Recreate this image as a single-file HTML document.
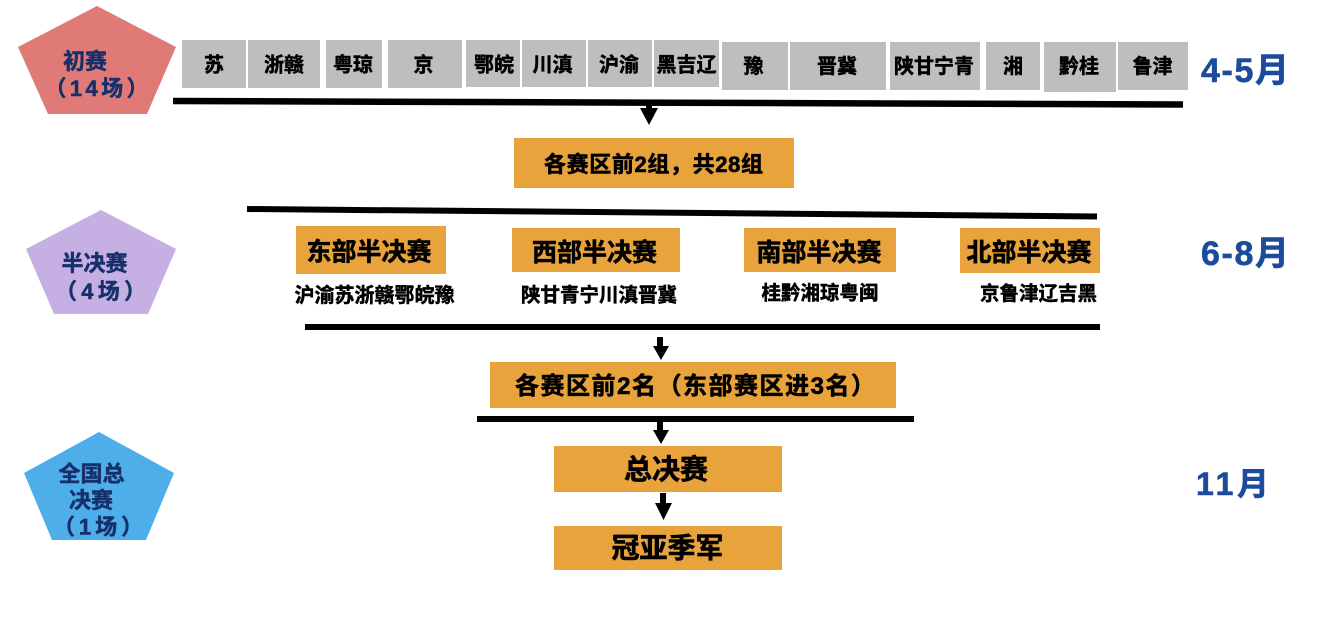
<!DOCTYPE html>
<html>
<head>
<meta charset="utf-8">
<style>
  html, body { margin:0; padding:0; background:#fff; }
  body { width:1336px; height:618px; overflow:hidden; }
  svg { display:block; }
  text { font-family: "Liberation Sans", "Noto Sans CJK SC", "WenQuanYi Zen Hei", sans-serif; font-weight:bold; }
  .g { font-size:20px; fill:#000; stroke:#000; stroke-width:0.5px; }
  .p { font-size:22px; fill:#17306B; stroke:#17306B; stroke-width:0.5px; }
  .o { font-size:25px; fill:#000; stroke:#000; stroke-width:0.6px; }
  .s { font-size:19.5px; fill:#000; stroke:#000; stroke-width:0.5px; }
  .m { font-size:34px; fill:#1C4B9C; stroke:#1C4B9C; stroke-width:0.6px; }
</style>
</head>
<body>
<svg width="1336" height="618" viewBox="0 0 1336 618" xmlns="http://www.w3.org/2000/svg">
  <!-- Pentagons -->
  <polygon points="97,6 176,47 147,114 48,114 18,47" fill="#E07A77"/>
  <polygon points="101,210 176,249 148,314 54,314 26,249" fill="#C6AFE3"/>
  <polygon points="99,432 174,473 146,540 52,540 24,473" fill="#4DAEEA"/>

  <text class="p" x="85" y="69" text-anchor="middle">初赛</text>
  <text class="p" x="96.5" y="96" text-anchor="middle" textLength="104" lengthAdjust="spacing">（14场）</text>

  <text class="p" x="94.5" y="271" text-anchor="middle">半决赛</text>
  <text class="p" x="100.5" y="299" text-anchor="middle" textLength="91" lengthAdjust="spacing">（4场）</text>

  <text class="p" x="91.5" y="481.5" text-anchor="middle">全国总</text>
  <text class="p" x="91" y="508" text-anchor="middle">决赛</text>
  <text class="p" x="98" y="534.5" text-anchor="middle" textLength="90" lengthAdjust="spacing">（1场）</text>

  <!-- Gray province boxes -->
  <g fill="#BEBEBE">
    <rect x="182" y="40" width="64" height="48"/>
    <rect x="248" y="40" width="72" height="48"/>
    <rect x="326" y="40" width="56" height="48"/>
    <rect x="388" y="40" width="74" height="48"/>
    <rect x="466" y="40" width="54" height="47"/>
    <rect x="522" y="40" width="64" height="47"/>
    <rect x="588" y="40" width="64" height="47"/>
    <rect x="654" y="40" width="65" height="47"/>
    <rect x="722" y="42" width="66" height="48"/>
    <rect x="790" y="42" width="96" height="48"/>
    <rect x="890" y="42" width="90" height="48"/>
    <rect x="986" y="42" width="54" height="48"/>
    <rect x="1044" y="42" width="72" height="50"/>
    <rect x="1118" y="42" width="70" height="48"/>
  </g>
  <text class="g" x="214" y="71.5" text-anchor="middle">苏</text>
  <text class="g" x="284" y="71.5" text-anchor="middle">浙赣</text>
  <text class="g" x="353" y="71.5" text-anchor="middle">粤琼</text>
  <text class="g" x="423.5" y="71.5" text-anchor="middle">京</text>
  <text class="g" x="494" y="71.5" text-anchor="middle">鄂皖</text>
  <text class="g" x="552.5" y="71.5" text-anchor="middle">川滇</text>
  <text class="g" x="619" y="71.5" text-anchor="middle">沪渝</text>
  <text class="g" x="686.5" y="71.5" text-anchor="middle">黑吉辽</text>
  <text class="g" x="753.5" y="73" text-anchor="middle">豫</text>
  <text class="g" x="837" y="73" text-anchor="middle">晋冀</text>
  <text class="g" x="934" y="73" text-anchor="middle">陕甘宁青</text>
  <text class="g" x="1013" y="73" text-anchor="middle">湘</text>
  <text class="g" x="1079" y="73" text-anchor="middle">黔桂</text>
  <text class="g" x="1152.5" y="73" text-anchor="middle">鲁津</text>

  <!-- Month labels -->
  <text class="m" x="1201" y="82" textLength="88" lengthAdjust="spacing">4-5月</text>
  <text class="m" x="1201" y="265" textLength="88" lengthAdjust="spacing">6-8月</text>
  <text class="m" x="1196" y="495" style="font-size:32px" textLength="73" lengthAdjust="spacing">11月</text>

  <!-- Lines -->
  <line x1="173" y1="101" x2="1183" y2="104.5" stroke="#000" stroke-width="6.5"/>
  <line x1="247" y1="209" x2="1097" y2="216.5" stroke="#000" stroke-width="6"/>
  <line x1="305" y1="327" x2="1100" y2="327" stroke="#000" stroke-width="6"/>
  <line x1="477" y1="419" x2="914" y2="419" stroke="#000" stroke-width="6"/>

  <!-- Arrows -->
  <rect x="646" y="103" width="6" height="6" fill="#000"/>
  <polygon points="640,108 658,108 649,125" fill="#000"/>

  <rect x="657" y="337" width="6" height="10" fill="#000"/>
  <polygon points="653,346 669,346 661,360" fill="#000"/>

  <rect x="657" y="421" width="6" height="10" fill="#000"/>
  <polygon points="653,430 669,430 661,444" fill="#000"/>

  <rect x="660" y="493" width="6" height="11" fill="#000"/>
  <polygon points="655,503 672,503 663.5,520" fill="#000"/>

  <!-- Orange boxes -->
  <g fill="#E9A33C">
    <rect x="514" y="138" width="280" height="50"/>
    <rect x="296" y="226" width="150" height="48"/>
    <rect x="512" y="228" width="168" height="44"/>
    <rect x="744" y="228" width="152" height="44"/>
    <rect x="960" y="228" width="140" height="45"/>
    <rect x="490" y="362" width="406" height="46"/>
    <rect x="554" y="446" width="228" height="46"/>
    <rect x="554" y="526" width="228" height="44"/>
  </g>

  <text class="o" x="653.5" y="172" style="font-size:22px" text-anchor="middle" textLength="219" lengthAdjust="spacing">各赛区前2组，共28组</text>

  <text class="o" x="369" y="260.5" text-anchor="middle">东部半决赛</text>
  <text class="o" x="594.5" y="261" text-anchor="middle">西部半决赛</text>
  <text class="o" x="819" y="261" text-anchor="middle">南部半决赛</text>
  <text class="o" x="1029" y="261" text-anchor="middle">北部半决赛</text>

  <text class="s" x="374.5" y="302" style="font-size:20px" text-anchor="middle">沪渝苏浙赣鄂皖豫</text>
  <text class="s" x="599" y="301.5" text-anchor="middle">陕甘青宁川滇晋冀</text>
  <text class="s" x="820" y="299.5" text-anchor="middle">桂黔湘琼粤闽</text>
  <text class="s" x="1038.5" y="300" text-anchor="middle">京鲁津辽吉黑</text>

  <text class="o" x="695" y="394" style="font-size:24px" text-anchor="middle" textLength="360" lengthAdjust="spacing">各赛区前2名（东部赛区进3名）</text>

  <text class="o" x="666" y="479" style="font-size:28px" text-anchor="middle">总决赛</text>
  <text class="o" x="667.5" y="557.5" style="font-size:28px" text-anchor="middle">冠亚季军</text>
</svg>
</body>
</html>
